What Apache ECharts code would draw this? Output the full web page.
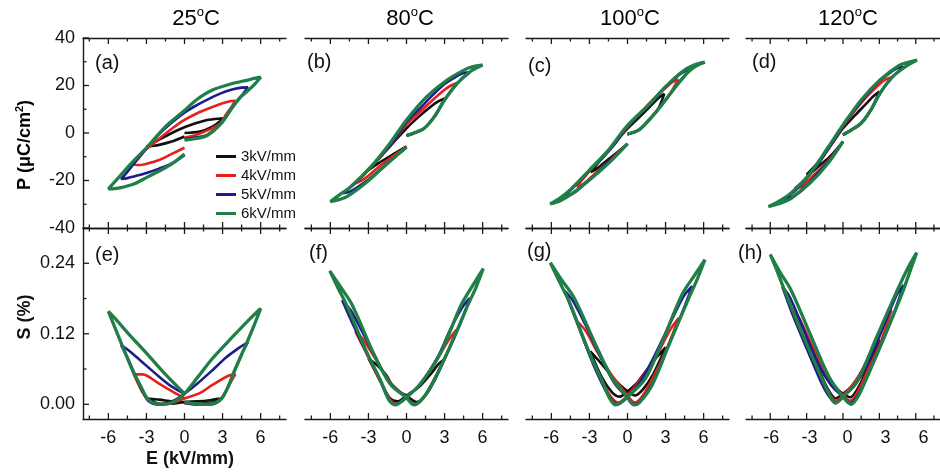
<!DOCTYPE html>
<html><head><meta charset="utf-8">
<script src="https://cdn.jsdelivr.net/npm/echarts@6/dist/echarts.min.js"></script>
<style>html,body{margin:0;padding:0;background:#fff}#c{width:940px;height:472px;background:#fff}</style>
</head><body><div id="c"></div>
<script>
const temps = ['25', '80', '100', '120'];
const fields = ['3kV/mm', '4kV/mm', '5kV/mm', '6kV/mm'];
const panelLabels = ['(a)', '(b)', '(c)', '(d)', '(e)', '(f)', '(g)', '(h)'];
const xTicksMajor = [-6, -3, 0, 3, 6];
const xTicksMinor = [-7.5, -4.5, -1.5, 1.5, 4.5, 7.5];
const pTicksMajor = [-40, -20, 0, 20, 40];
const pTicksMinor = [-30, -10, 10, 30];
const sTicksMajor = [0, 0.12, 0.24];
const sTicksMinor = [0.06, 0.18];

// ---- P-E loops [E (kV/mm), P (uC/cm2)] ----
const pe25_3 = [[0,0],[1.2,0.6],[2.2,2.7],[2.7,4.5],[3,6.2],[2.4,5.9],[1.7,5.4],[1,4.3],[0,2.4],[-1,0],[-2,-2.8],[-2.6,-4.6],[-3,-5.8],[-2.6,-5.5],[-2,-5],[-1,-3.6],[0,-1.5]];
const pe25_4 = [[0,-2],[1,-0.6],[2,1.5],[2.8,4],[3.3,8],[3.7,11],[4,13.6],[3.5,13.3],[3,12.5],[2,10.5],[1,8.3],[0,5.5],[-1,1.8],[-2,-2.4],[-3,-6.8],[-3.6,-10.5],[-4,-13.2],[-3.5,-13.5],[-3,-13],[-2,-11.4],[-1,-8.8],[0,-6.2]];
const pe25_5 = [[0,-2.5],[1,-1.8],[1.7,-1],[2.3,1],[2.9,4],[3.4,7.8],[3.8,10.8],[4.4,15],[5,19.2],[4.5,19.1],[4,18.6],[3,17],[2,14.6],[1,11.8],[0,8.6],[-1,4.4],[-2,-0.5],[-3,-6.5],[-4,-13],[-4.6,-17],[-5,-19.4],[-4.5,-19],[-4,-18.3],[-3,-16.8],[-2,-15],[-1,-12.8],[0,-9.3]];
const pe25_6 = [[0,-3],[1,-2.3],[1.7,-1.3],[2.3,1],[2.9,4.1],[3.4,7.8],[3.8,11.1],[4.3,14.5],[4.9,17.4],[5.5,20.4],[6,23.5],[5.5,23],[5,22.3],[3.8,20.9],[2.2,18.1],[1,14.2],[0,9.5],[-1.5,2.7],[-3,-6.3],[-4.2,-12.8],[-5.2,-18.8],[-6,-23.5],[-5.5,-23.4],[-5,-23],[-4,-21.5],[-3,-18.8],[-2,-16],[-1,-13],[0,-8.8]];

const pe80_3 = [[0,-1.1],[0.6,0],[1.4,2],[2.2,6.9],[3,14.5],[2.5,13.3],[2,11.5],[1,7],[0,2],[-1,-3.8],[-2,-9.8],[-3,-15.6],[-2.5,-13.8],[-2,-12],[-1,-8.8],[0,-5.6]];
const pe80_4 = [[0,-1.1],[0.6,0],[1.4,2],[2.2,6.9],[3,13.9],[4,21.2],[3.5,20],[3,18.2],[2,13.6],[1,8.5],[0,3.6],[-1,-3.5],[-2,-9.6],[-3,-15.6],[-4,-21.2],[-3.5,-20],[-3,-18],[-2,-13.5],[-1,-9.5],[0,-5.8]];
const pe80_5 = [[0,-1.1],[0.6,0],[1.4,2],[2.2,6.9],[3,13.9],[4,20.9],[5,25.6],[4.5,25.3],[4,24],[3,20.6],[2,15.6],[1,10],[0,4.8],[-1,-3.4],[-2,-9.5],[-3,-15.4],[-4,-21],[-5,-25.3],[-4.5,-24.8],[-4,-23.3],[-3,-19.6],[-2,-15],[-1,-10.5],[0,-6]];
const pe80_6 = [[0,-1.1],[0.6,0],[1.4,2],[2.2,6.9],[3,13.9],[4,20.9],[5,25.8],[6,28.6],[5.4,28.2],[4.8,27.2],[3.2,22.3],[1.6,15.3],[0,5.5],[-1.3,-4.3],[-2.8,-14.2],[-4.4,-22.6],[-5.4,-26.5],[-6,-28.9],[-5.4,-28.2],[-4.7,-26.8],[-3.1,-20.5],[-1.5,-12.8],[0,-6]];

const pe100_3 = [[0,-0.5],[0.9,1.3],[1.7,5.5],[2.4,10],[2.9,16.5],[2.4,14.5],[2,12.4],[1,7],[0,1.8],[-1,-4.3],[-2,-10.5],[-2.9,-16.5],[-2.5,-15.3],[-2,-13.2],[-1,-9],[0,-4.5]];
const pe100_4 = [[0,-0.5],[0.9,1.3],[1.7,5.5],[2.7,11.8],[3.4,17],[4,22.5],[3.5,21.3],[3,19],[2,14],[1,8.3],[0,2.5],[-1,-4.5],[-2,-10.6],[-3,-16.2],[-4,-22.5],[-3.5,-21.5],[-3,-19.3],[-2,-14.5],[-1,-9.6],[0,-4.6]];
const pe100_5 = [[0,-0.5],[0.9,1.3],[1.7,5.5],[2.7,11.8],[3.8,19.5],[4.4,23.5],[5,26.8],[4.5,26],[4,24.2],[3,19.2],[2,13.6],[1,8],[0,2.9],[-1,-4.6],[-2,-10.7],[-3,-15.9],[-4,-21.5],[-5,-26.8],[-4.5,-26],[-4,-24.4],[-3,-19.7],[-2,-14.8],[-1,-9.8],[0,-4.6]];
const pe100_6 = [[0,-0.5],[0.9,1.3],[1.7,5.5],[2.7,11.8],[3.8,19.5],[4.8,25.8],[5.4,28.2],[6.1,29.8],[5.2,28.5],[4.3,25.8],[3,19.5],[1.7,12],[0,3.2],[-1.5,-7.2],[-3,-15.6],[-4.4,-23.3],[-5.3,-27.3],[-6.1,-29.9],[-5.3,-28.5],[-4.4,-25.6],[-3,-19.8],[-1.5,-12.8],[0,-4.6]];

const pe120_3 = [[0,-0.8],[0.7,1.3],[1.5,4.1],[2.3,9.7],[3,17.5],[2.5,15.5],[2,12.8],[1,7.5],[0,2],[-1,-5.2],[-2,-12],[-3,-17.5],[-2.5,-16.3],[-2,-14],[-1,-9.5],[0,-3.6]];
const pe120_4 = [[0,-0.8],[0.7,1.3],[1.5,4.1],[2.3,9.7],[3.05,16.7],[4,23.5],[3.5,22.5],[3,20.5],[2,15.5],[1,9.5],[0,2.8],[-1,-5.2],[-2,-12.5],[-3,-18.8],[-4,-23.5],[-3.5,-22.8],[-3,-20.5],[-2,-15.8],[-1,-10.3],[0,-3.6]];
const pe120_5 = [[0,-0.8],[0.7,1.3],[1.5,4.1],[2.3,9.7],[3.05,16.7],[4.1,23.7],[5,27.8],[4.5,27.4],[4,25.8],[3,21.8],[2,16.3],[1,10],[0,3.1],[-1,-5],[-2,-12.7],[-3,-19],[-4,-24.6],[-5,-27.8],[-4.5,-27.4],[-4,-26.3],[-3,-22],[-2,-16.5],[-1,-10.8],[0,-3.6]];
const pe120_6 = [[0,-0.8],[0.7,1.3],[1.5,4.1],[2.3,9.7],[3.05,16.7],[4.1,23.7],[5.15,27.9],[6.1,30.7],[5.4,29.8],[4.6,28.4],[3.05,22.3],[1.5,13.9],[0,3.4],[-1.2,-5.8],[-2.7,-17],[-4.3,-25.4],[-5.3,-28.8],[-6.15,-31],[-5.3,-29.8],[-4.3,-27.6],[-2.7,-21],[-1.2,-12.5],[0,-3.6]];

// ---- S-E loops [E (kV/mm), S (%)] ----
const se25_3 = [[0,0.002],[1,0],[2,0.002],[2.5,0.005],[3,0.01],[2.5,0.009],[2,0.007],[1,0.005],[0,0.004],[-1,0.001],[-2,0.001],[-2.5,0.005],[-3,0.01],[-2.5,0.009],[-2,0.008],[-1,0.005],[0,0.003]];
const se25_4 = [[0,0.003],[1,0],[2,0],[2.7,0.005],[3.2,0.02],[3.6,0.036],[4,0.051],[3.5,0.049],[2.2,0.033],[1.2,0.019],[0,0.01],[-1,0.002],[-2,0],[-2.8,0.005],[-3.3,0.02],[-3.7,0.037],[-4,0.051],[-3.3,0.051],[-2,0.035],[-0.9,0.021],[0,0.01]];
const se25_5 = [[0,0.003],[1,0],[2,0],[2.6,0.004],[3,0.012],[3.5,0.033],[4,0.06],[4.5,0.085],[5,0.106],[4.3,0.096],[3.3,0.08],[2.2,0.058],[1,0.035],[0,0.018],[-0.7,0.008],[-1.5,0.001],[-2.2,0],[-2.8,0.005],[-3.2,0.018],[-3.8,0.045],[-4.4,0.075],[-5,0.101],[-4.3,0.09],[-3.5,0.075],[-2,0.047],[-1,0.03],[0,0.018]];
const se25_6 = [[0,0.004],[0.8,0.001],[1.7,0],[2.4,0.002],[3,0.012],[3.5,0.033],[3.9,0.055],[4.9,0.104],[5.5,0.135],[6,0.163],[5,0.142],[3.8,0.115],[2.2,0.078],[1,0.045],[0,0.018],[-0.6,0.007],[-1.3,0.001],[-2,0],[-2.6,0.004],[-3,0.012],[-3.5,0.033],[-4.1,0.058],[-5.1,0.11],[-6,0.158],[-5.3,0.142],[-4.5,0.122],[-3,0.087],[-1.5,0.051],[0,0.018]];

const se80_3 = [[0,0.015],[0.8,0.004],[1.5,0.015],[2.2,0.04],[3,0.077],[2.5,0.068],[2,0.054],[1,0.03],[0,0.015],[-0.7,0.005],[-1.3,0.01],[-2,0.037],[-3,0.078],[-2.4,0.068],[-1.6,0.05],[-1,0.028],[0,0.015]];
const se80_4 = [[0,0.012],[0.7,0],[1.3,0.01],[2,0.035],[3,0.077],[3.95,0.127],[3.4,0.112],[2.5,0.08],[1.2,0.037],[0,0.012],[-0.8,0],[-1.3,0.008],[-2,0.036],[-3,0.08],[-4.03,0.124],[-3.4,0.11],[-2.5,0.079],[-1.3,0.038],[0,0.012]];
const se80_5 = [[0,0.012],[0.6,0],[1.2,0.008],[1.9,0.03],[3.2,0.087],[4.2,0.135],[5,0.181],[4.4,0.165],[3.4,0.125],[2.5,0.082],[1.1,0.035],[0,0.012],[-0.9,0],[-1.4,0.008],[-2.05,0.04],[-3.1,0.086],[-4.2,0.135],[-5.07,0.177],[-4.4,0.16],[-3.4,0.12],[-2.5,0.082],[-1.3,0.036],[0,0.012]];
const se80_6 = [[0,0.012],[0.6,-0.001],[1.2,0.008],[1.9,0.03],[3.2,0.087],[4.8,0.167],[5.5,0.2],[6.05,0.231],[5.3,0.205],[4.26,0.167],[2.68,0.087],[1.1,0.035],[0,0.012],[-0.9,-0.001],[-1.4,0.008],[-2.05,0.041],[-3.1,0.087],[-4.68,0.167],[-5.4,0.198],[-6.05,0.227],[-5.3,0.203],[-4.3,0.17],[-2.6,0.087],[-1.3,0.035],[0,0.012]];

const se100_3 = [[0,0.022],[0.6,0.015],[1.2,0.025],[2,0.05],[3,0.097],[2.3,0.08],[1.5,0.058],[0.7,0.035],[0,0.022],[-0.6,0.013],[-1.2,0.02],[-2,0.045],[-2.93,0.09],[-2.3,0.075],[-1.5,0.055],[-0.7,0.035],[0,0.022]];
const se100_4 = [[0,0.015],[0.6,0.003],[1.2,0.015],[2,0.045],[3,0.09],[4.05,0.147],[3.4,0.128],[2.5,0.092],[1.3,0.05],[0,0.015],[-0.7,0.003],[-1.3,0.013],[-2,0.04],[-3,0.085],[-3.97,0.141],[-3.3,0.125],[-2.4,0.09],[-1.2,0.048],[0,0.015]];
const se100_5 = [[0,0.012],[0.5,0],[1,0.005],[2,0.037],[3.2,0.098],[4.2,0.15],[5.1,0.201],[4.4,0.183],[3.3,0.135],[2,0.077],[1,0.038],[0,0.012],[-0.8,0],[-1.5,0.015],[-2.5,0.058],[-3.5,0.112],[-4.95,0.193],[-4.3,0.176],[-3.2,0.13],[-2,0.075],[-1,0.035],[0,0.012]];
const se100_6 = [[0,0.0126],[0.5,-0.001],[0.9,0.002],[1.95,0.033],[3.26,0.101],[4.84,0.181],[5.5,0.213],[6.1,0.246],[5.3,0.22],[4.3,0.187],[2.74,0.107],[1.42,0.044],[0,0.0126],[-0.95,-0.001],[-1.4,0.01],[-1.87,0.033],[-3.05,0.09],[-4.6,0.175],[-5.4,0.21],[-6.08,0.241],[-5.3,0.215],[-4.2,0.181],[-2.5,0.101],[-1.2,0.044],[0,0.0126]];

const se120_3 = [[0,0.018],[0.6,0.012],[1.3,0.03],[2.1,0.065],[3,0.11],[2.4,0.09],[1.5,0.055],[0.7,0.03],[0,0.018],[-0.6,0.01],[-1.3,0.028],[-2.1,0.065],[-3,0.11],[-2.4,0.088],[-1.5,0.055],[-0.7,0.03],[0,0.018]];
const se120_4 = [[0,0.015],[0.6,0.006],[1.3,0.025],[2.2,0.065],[3,0.1],[4,0.16],[3.4,0.14],[2.5,0.098],[1.3,0.048],[0,0.015],[-0.6,0.006],[-1.3,0.025],[-2.2,0.065],[-3,0.1],[-4,0.16],[-3.4,0.138],[-2.5,0.098],[-1.3,0.048],[0,0.015]];
const se120_5 = [[0,0.013],[0.6,0.002],[1.2,0.015],[1.9,0.042],[3.3,0.11],[4.2,0.155],[5,0.203],[4.4,0.185],[3.3,0.13],[2,0.067],[1,0.033],[0,0.013],[-0.6,0.002],[-1.2,0.015],[-1.9,0.042],[-3.3,0.11],[-4.2,0.155],[-5,0.2],[-4.4,0.183],[-3.3,0.13],[-2,0.067],[-1,0.033],[0,0.013]];
const se120_6 = [[0,0.0126],[0.68,0],[1.2,0.012],[1.74,0.035],[3.32,0.11],[4.9,0.19],[5.5,0.225],[6.08,0.258],[5.3,0.23],[4.5,0.195],[2.79,0.115],[1.21,0.041],[0,0.0126],[-0.63,0.002],[-1.1,0.015],[-1.68,0.041],[-3.26,0.115],[-4.84,0.195],[-5.4,0.225],[-6,0.255],[-5.2,0.225],[-4.3,0.195],[-2.74,0.121],[-1.16,0.047],[0,0.0126]];

const panelData = [
  [pe25_3, pe25_4, pe25_5, pe25_6], [pe80_3, pe80_4, pe80_5, pe80_6],
  [pe100_3, pe100_4, pe100_5, pe100_6], [pe120_3, pe120_4, pe120_5, pe120_6],
  [se25_3, se25_4, se25_5, se25_6], [se80_3, se80_4, se80_5, se80_6],
  [se100_3, se100_4, se100_5, se100_6], [se120_3, se120_4, se120_5, se120_6]
];

const FONT = '"Liberation Sans", Arial, Helvetica, sans-serif';
const colors = ['#111111', '#e8201c', '#1c1c8c', '#1f7f47'];
const widths = [2.6, 2.6, 2.6, 3.3];
const colLeft = [83, 305, 526, 746];
const rowTop = [38, 228];
const rowH = [190, 191];
const W = 203;
const PX = W / 16;
const AX = '#1a1a1a';
const lineSty = { color: AX, width: 1.4 };
const XMIN = -8, XMAX = 8;
const YR = [[-40, 40], [-0.025, 0.30]];

const grid = [], xAxis = [], yAxis = [], series = [];
const panelAxes = [];
const addGrid = g => { grid.push(g); return grid.length - 1; };
const addX = a => { xAxis.push(Object.assign({ type: 'value', splitLine: { show: false } }, a)); return xAxis.length - 1; };
const addY = a => { yAxis.push(Object.assign({ type: 'value', splitLine: { show: false } }, a)); return yAxis.length - 1; };

for (let i = 0; i < 8; i++) {
  const row = i < 4 ? 0 : 1, col = i % 4;
  const L = colLeft[col], T = rowTop[row], H = rowH[row];
  const [ymin, ymax] = YR[row];
  const gD = addGrid({ left: L, top: T, width: W, height: H });
  const xD = addX({ gridIndex: gD, min: XMIN, max: XMAX, position: 'bottom',
    axisLine: { show: true, onZero: false, lineStyle: lineSty }, axisTick: { show: false }, axisLabel: { show: false } });
  addX({ gridIndex: gD, min: XMIN, max: XMAX, position: 'top',
    axisLine: { show: true, onZero: false, lineStyle: lineSty }, axisTick: { show: false }, axisLabel: { show: false } });
  let yD;
  if (row === 0) {
    yD = addY({ gridIndex: gD, min: -40, max: 40, interval: 20, position: 'left', show: col === 0,
      axisLine: { show: true, onZero: false, lineStyle: lineSty }, axisTick: { show: false },
      axisLabel: { show: true, margin: 8, color: '#111', fontSize: 18, fontFamily: FONT } });
  } else {
    yD = addY({ gridIndex: gD, min: ymin, max: ymax, position: 'left', show: col === 0,
      axisLine: { show: true, onZero: false, lineStyle: lineSty }, axisTick: { show: false }, axisLabel: { show: false } });
  }
  panelAxes.push({ xD, yD, row, col, ymin, ymax });
  if (row === 1) {
    const gB = addGrid({ left: L + 2 * PX, top: T, width: 12 * PX, height: H });
    addX({ gridIndex: gB, min: -6, max: 6, interval: 3, position: 'bottom',
      axisLine: { show: false, onZero: false }, axisTick: { show: false },
      axisLabel: { show: true, margin: 10, color: '#111', fontSize: 18, fontFamily: FONT } });
    addY({ gridIndex: gB, show: false, min: 0, max: 1, axisLine: { show: false, onZero: false } });
  }
  if (row === 1 && col === 0) {
    const pxS = H / 0.325;
    const gC = addGrid({ left: L, top: T + 0.06 * pxS, width: W, height: 0.24 * pxS });
    addX({ gridIndex: gC, show: false, min: 0, max: 1, axisLine: { show: false, onZero: false } });
    addY({ gridIndex: gC, min: 0, max: 0.24, interval: 0.12, position: 'left',
      axisLine: { show: false, onZero: false }, axisTick: { show: false },
      axisLabel: { show: true, margin: 8, formatter: v => v.toFixed(2), color: '#111', fontSize: 18, fontFamily: FONT } });
  }
  panelData[i].forEach((d, k) => {
    series.push({ type: 'line', name: fields[k], xAxisIndex: xD, yAxisIndex: yD, data: d,
      symbol: 'none', showSymbol: false, smooth: 0.3, silent: true,
      lineStyle: { color: colors[k], width: widths[k] }, itemStyle: { color: colors[k] } });
  });
}

// ---- text ----
const supRich = (size) => ({
  n: { fontSize: size, fontFamily: FONT, color: '#111', lineHeight: size + 4 },
  s: { fontSize: Math.round(size * 0.6), fontFamily: FONT, color: '#111', lineHeight: Math.round(size * 0.55), verticalAlign: 'top' }
});
const titleX = [196, 410, 630, 848];
const graphic = [];
temps.forEach((t, c) => {
  graphic.push({ type: 'text', x: titleX[c], y: 19, silent: true,
    style: { text: '{n|' + t + '}{s|o}{n|C}', rich: supRich(22), align: 'center', verticalAlign: 'middle', textAlign: 'center', textVerticalAlign: 'middle' } });
});
const labelPos = [[95, 63], [307, 62], [528, 66], [752, 62], [95, 255], [309, 253], [527, 251], [738, 253]];
panelLabels.forEach((lb, i) => {
  graphic.push({ type: 'text', x: labelPos[i][0], y: labelPos[i][1], silent: true,
    style: { text: lb, font: '20px ' + FONT, fill: '#111', align: 'left', verticalAlign: 'middle', textAlign: 'left', textVerticalAlign: 'middle' } });
});
const boldRich = {
  n: { fontSize: 18, fontWeight: 'bold', fontFamily: FONT, color: '#111', lineHeight: 22 },
  s: { fontSize: 11, fontWeight: 'bold', fontFamily: FONT, color: '#111', lineHeight: 12, verticalAlign: 'top' }
};
graphic.push({ type: 'text', x: 25, y: 145, rotation: Math.PI / 2, silent: true,
  style: { text: '{n|P (μC/cm}{s|2}{n|)}', rich: boldRich, align: 'center', verticalAlign: 'middle', textAlign: 'center', textVerticalAlign: 'middle' } });
graphic.push({ type: 'text', x: 25, y: 317, rotation: Math.PI / 2, silent: true,
  style: { text: 'S (%)', font: 'bold 18px ' + FONT, fill: '#111', align: 'center', verticalAlign: 'middle', textAlign: 'center', textVerticalAlign: 'middle' } });
graphic.push({ type: 'text', x: 190, y: 459, silent: true,
  style: { text: 'E (kV/mm)', font: 'bold 18px ' + FONT, fill: '#111', align: 'center', verticalAlign: 'middle', textAlign: 'center', textVerticalAlign: 'middle' } });

const chart = echarts.init(document.getElementById('c'));
chart.setOption({
  animation: false,
  grid, xAxis, yAxis, series, graphic,
  legend: { show: true, left: 211, top: 144, orient: 'vertical', selectedMode: false,
    itemWidth: 20, itemHeight: 3, itemGap: 4, icon: 'rect', data: fields,
    textStyle: { fontSize: 15, lineHeight: 15, fontFamily: FONT, color: '#111' } }
});

// ---- inside tick marks, positioned through each panel's axis scales ----
const tickEls = [];
function tickLine(p, dx, dy) {
  tickEls.push({ type: 'line', silent: true, z: 10,
    shape: { x1: p[0], y1: p[1], x2: p[0] + dx, y2: p[1] + dy },
    style: { stroke: AX, lineWidth: 1.3 } });
}
panelAxes.forEach(pa => {
  const finder = { xAxisIndex: pa.xD, yAxisIndex: pa.yD };
  const conv = v => chart.convertToPixel(finder, v);
  xTicksMajor.forEach(x => { tickLine(conv([x, pa.ymin]), 0, -6); tickLine(conv([x, pa.ymax]), 0, 6); });
  xTicksMinor.forEach(x => { tickLine(conv([x, pa.ymin]), 0, -3.5); tickLine(conv([x, pa.ymax]), 0, 3.5); });
  if (pa.col === 0) {
    const maj = pa.row === 0 ? pTicksMajor : sTicksMajor;
    const mnr = pa.row === 0 ? pTicksMinor : sTicksMinor;
    maj.forEach(y => tickLine(conv([XMIN, y]), 6, 0));
    mnr.forEach(y => tickLine(conv([XMIN, y]), 3.5, 0));
  }
});
chart.setOption({ graphic: graphic.concat(tickEls) });
</script></body></html>
